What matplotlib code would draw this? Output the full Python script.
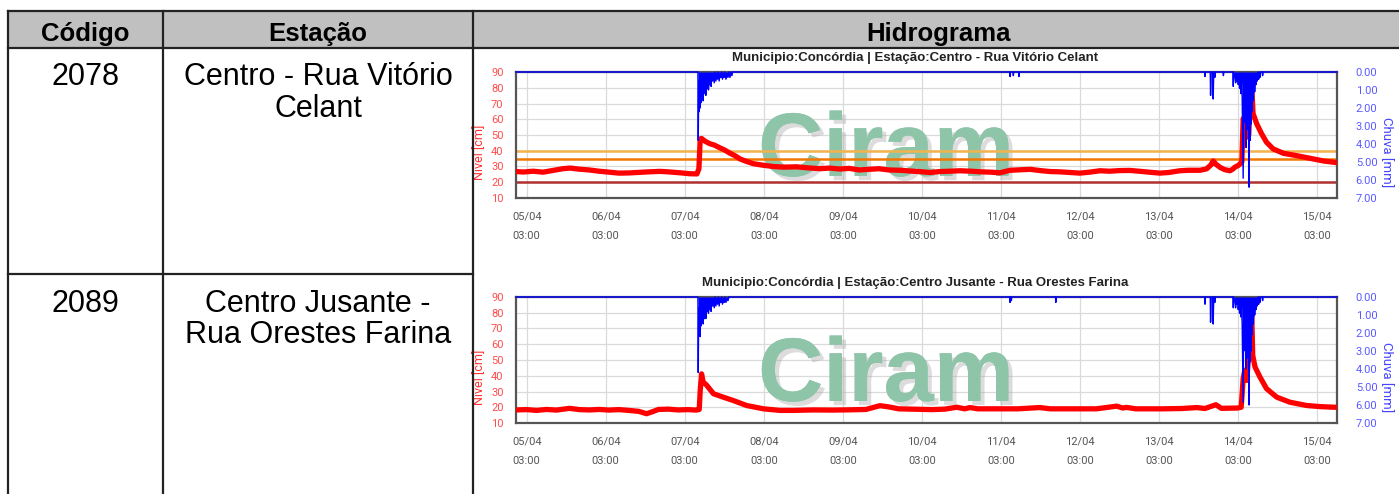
import matplotlib
matplotlib.use('Agg')
import matplotlib.pyplot as plt
from matplotlib.lines import Line2D
from matplotlib.patches import Rectangle
import matplotlib.patheffects as pe

# ---------------- data ----------------
header_labels = ['Código', 'Estação', 'Hidrograma']
station_codes = ['2078', '2089']
station_names = [['Centro - Rua Vitório', 'Celant'],
                 ['Centro Jusante -', 'Rua Orestes Farina']]
chart_titles = ['Municipio:Concórdia | Estação:Centro - Rua Vitório Celant',
                'Municipio:Concórdia | Estação:Centro Jusante - Rua Orestes Farina']

# x axis: hours since 05/04 00:00
tick_hours = [3, 27, 51, 75, 99, 123, 147, 171, 195, 219, 243]
tick_dates = ['05/04', '06/04', '07/04', '08/04', '09/04', '10/04',
              '11/04', '12/04', '13/04', '14/04', '15/04']
tick_times = ['03:00', '03:00', '03:00', '03:00', '03:00', '03:00',
              '03:00', '03:00', '03:00', '03:00', '03:00']
level_ticks = [10, 20, 30, 40, 50, 60, 70, 80, 90]
rain_ticks = [0, 1, 2, 3, 4, 5, 6, 7]

# thresholds (cm) for station 2078
thresholds1 = [40, 35, 20]
threshold_colors = ['#f2b24c', '#f07800', '#b03030']

# station 2078 water level (cm)
level1_h = [-0.25, 2, 5, 8, 11, 14, 16.2, 19, 22, 25, 28, 31, 34, 37.4, 40, 43.5, 46,
            49.6, 52.6, 54.7, 55.3, 55.7, 56.1, 57.2, 58.7, 60, 61.7, 63, 64.7, 66.3,
            67.8, 69.5, 71.8, 74.8, 77.9, 81, 85, 88, 92.1, 95, 98.1, 101, 104, 107,
            110, 113, 116.4, 119, 122, 125.5, 128.5, 131.5, 134.6, 138, 141, 144,
            146.7, 149.8, 152.8, 155.9, 159, 162, 165, 168, 171, 174, 177.1, 180, 183,
            186.2, 189, 192, 195.3, 198, 201.4, 204, 207.5, 209.5, 210.8, 211.5, 212.3,
            213.6, 215, 216.6, 217.5, 218.1, 219.0, 219.6, 220.2, 220.6, 221.2, 221.7,
            222.3, 222.7, 223.2, 223.6, 224.7, 226.2, 227.7, 229.7, 232.8, 236.8,
            241.9, 245, 248.5, 249.1]
level1_v = [26.8, 26.5, 27.0, 26.4, 27.5, 28.6, 29.0, 28.3, 27.8, 27.0, 26.4, 25.8, 25.9,
            26.3, 26.6, 26.9, 26.6, 26.0, 25.4, 25.3, 28.5, 47.5, 47.8, 46.0, 44.4, 43.6,
            41.8, 40.6, 38.5, 36.8, 34.8, 33.4, 31.8, 30.8, 30.0, 29.6, 29.8, 29.2, 28.6,
            29.0, 28.4, 28.8, 27.8, 28.2, 28.6, 27.8, 27.6, 27.2, 26.8, 26.2, 26.8, 27.0,
            27.3, 27.0, 26.6, 26.4, 26.0, 27.6, 27.9, 28.2, 27.4, 26.8, 26.6, 26.2, 25.8,
            26.4, 27.3, 27.0, 27.4, 27.5, 27.0, 26.4, 25.8, 26.2, 27.3, 27.6, 27.6, 28.5,
            31.0, 33.5, 31.5, 29.4, 28.0, 27.3, 28.4, 29.6, 30.5, 31.5, 33.0, 60.4, 58.0,
            48.6, 50.0, 71.0, 80.6, 63.7, 57.2, 50.8, 45.4, 41.2, 38.4, 36.9, 34.8, 33.5,
            32.6, 32.4]

# station 2078 rain (mm)
rain1_h = [-0.25, 55.0, 55.10, 55.25, 55.40, 55.55, 55.70, 55.85, 56.00, 56.15, 56.30,
           56.45, 56.60, 56.80, 57.00, 57.20, 57.40, 57.60, 57.80, 58.00, 58.20, 58.40,
           58.60, 58.80, 59.00, 59.20, 59.45, 59.70, 59.95, 60.20, 60.45, 60.70, 60.95,
           61.20, 61.45, 61.70, 61.95, 62.20, 62.45, 62.70, 62.95, 63.20, 63.50, 63.80,
           64.10, 64.40, 64.70, 65.00, 65.30, 65.50,
           149.7, 149.8, 149.9, 150.7, 150.8, 150.9, 152.4, 152.5, 152.6,
           208.9, 209.0, 209.1, 210.6, 210.7, 210.85, 211.35, 211.5, 211.65, 211.9, 212.0,
           212.1, 214.5, 214.6, 214.7, 217.5, 217.6, 217.7,
           218.1, 218.3, 218.5, 218.7, 218.9, 219.1, 219.3, 219.5, 219.7, 219.9, 220.1,
           220.3, 220.6, 220.75, 220.9, 221.05, 221.2, 221.35, 221.5, 221.65, 221.8,
           221.95, 222.1, 222.25, 222.4, 222.55, 222.7, 222.85, 223.0, 223.15, 223.3,
           223.5, 223.7, 223.9, 224.1, 224.3, 224.5, 224.7, 224.9, 225.1, 225.3, 225.5,
           225.7, 225.9, 226.4, 226.5, 226.6, 249.1]
rain1_v = [0, 0, 3.8, 0.5, 2.2, 0.7, 2.0, 0.6, 1.7, 0.4, 1.5,
           0.6, 1.6, 0.5, 1.2, 0.3, 1.3, 0.4, 0.9, 0.2, 1.0, 0.3,
           0.7, 0.1, 0.8, 0.2, 0.5, 0.1, 0.6, 0.0, 0.5, 0.1, 0.4,
           0.0, 0.5, 0.1, 0.3, 0.0, 0.4, 0.1, 0.3, 0.0, 0.4, 0.1,
           0.3, 0.0, 0.3, 0.0, 0.2, 0.0,
           0, 0.25, 0, 0, 0.2, 0, 0, 0.25, 0,
           0, 0.25, 0, 0, 1.3, 0, 0, 1.5, 0, 0, 0.3,
           0, 0, 0.2, 0, 0, 0.8, 0,
           0.3, 0.6, 0.1, 0.5, 0.2, 0.7, 0.3, 0.9, 0.4, 1.2, 0.5,
           1.4, 5.9, 0.8, 2.3, 1.0, 2.8, 1.2, 4.2, 1.5, 3.2,
           1.3, 2.6, 1.4, 6.4, 1.8, 3.8, 1.2, 2.9, 0.9, 2.2,
           0.7, 1.6, 0.4, 1.1, 0.3, 0.7, 0.1, 0.5, 0.0, 0.4, 0.0,
           0.3, 0.0, 0, 0.2, 0, 0]

# station 2089 water level (cm)
level2_h = [-0.25, 3, 6, 9, 12, 16, 19, 22, 25, 28, 31, 34, 37, 39.4, 41, 43, 46, 49, 52,
            54.5, 55.4, 55.7, 56.1, 56.6, 57.7, 59.7, 62.7, 65.7, 69.8, 74.9, 79.9, 84,
            90, 96, 102, 106, 110.3, 113, 116, 120, 126, 130, 133.6, 136, 137.6, 140,
            146, 152, 158.9, 162, 170, 176, 182.2, 184, 185.2, 188, 196, 202, 206.5, 209,
            212.3, 214, 218.9, 220.0, 220.6, 221.1, 221.7, 222.1, 223.2, 223.5, 224.2,
            225.7, 227.7, 230.8, 234.8, 239.9, 244, 248.5, 249.1]
level2_v = [18.3, 18.5, 18.0, 18.6, 18.2, 19.3, 18.5, 18.3, 18.6, 18.2, 18.5, 18.0, 17.4,
            15.9, 17.0, 18.6, 18.8, 18.3, 18.5, 18.2, 18.6, 30.7, 41.2, 36.0, 33.9, 28.6,
            26.4, 24.3, 21.1, 19.0, 18.0, 18.0, 18.3, 18.2, 18.4, 18.6, 21.0, 20.2, 19.0,
            18.8, 18.5, 18.8, 20.0, 19.0, 19.8, 19.0, 19.0, 19.0, 19.8, 19.0, 19.0, 19.0,
            20.7, 19.5, 19.9, 19.0, 19.0, 19.2, 19.8, 19.2, 21.6, 19.3, 19.5, 20.0, 38.2,
            43.5, 37.0, 48.8, 79.8, 53.0, 45.6, 39.2, 31.8, 26.4, 23.2, 21.1, 20.4, 20.0,
            20.0]

# station 2089 rain (mm)
rain2_h = [-0.25, 55.0, 55.10, 55.25, 55.40, 55.55, 55.70, 55.85, 56.00, 56.15, 56.30,
           56.45, 56.60, 56.80, 57.00, 57.20, 57.40, 57.60, 57.80, 58.00, 58.20, 58.40,
           58.60, 58.80, 59.00, 59.20, 59.45, 59.70, 59.95, 60.20, 60.45, 60.70, 60.95,
           61.20, 61.45, 61.70, 61.95, 62.20, 62.45, 62.70, 62.95, 63.20, 63.50, 63.80,
           64.10, 64.40,
           149.7, 149.8, 149.9, 150.1, 150.2, 150.3, 163.6, 163.7, 163.8,
           208.9, 209.0, 209.1, 210.6, 210.7, 210.85, 211.35, 211.5, 211.65, 211.9, 212.0,
           212.1, 217.5, 217.6, 217.7,
           218.1, 218.3, 218.5, 218.7, 218.9, 219.1, 219.3, 219.5, 219.7, 219.9, 220.1,
           220.3, 220.6, 220.75, 220.9, 221.05, 221.2, 221.35, 221.5, 221.65, 221.8,
           221.95, 222.1, 222.25, 222.4, 222.55, 222.7, 222.85, 223.0, 223.15, 223.3,
           223.5, 223.7, 223.9, 224.1, 224.3, 224.5, 224.7, 224.9, 225.1, 225.3, 225.5,
           225.7, 225.9, 226.4, 226.5, 226.6, 249.1]
rain2_v = [0, 0, 4.2, 0.6, 2.1, 0.8, 2.2, 0.5, 1.6, 0.4, 1.4,
           0.5, 1.5, 0.4, 1.2, 0.3, 1.2, 0.4, 0.8, 0.2, 0.9, 0.3,
           0.7, 0.1, 0.8, 0.2, 0.5, 0.1, 0.6, 0.0, 0.5, 0.1, 0.4,
           0.0, 0.5, 0.1, 0.3, 0.0, 0.4, 0.1, 0.3, 0.0, 0.3, 0.1,
           0.2, 0.0,
           0, 0.3, 0, 0, 0.2, 0, 0, 0.3, 0,
           0, 0.4, 0, 0, 1.4, 0, 0, 1.5, 0, 0, 0.3,
           0, 0, 0.6, 0,
           0.3, 0.6, 0.1, 0.4, 0.2, 0.7, 0.3, 0.9, 0.4, 1.1, 0.5,
           1.5, 5.85, 0.9, 2.4, 1.1, 3.0, 1.3, 4.0, 1.6, 3.4,
           1.4, 2.8, 1.5, 6.0, 1.9, 3.6, 1.2, 3.0, 1.0, 2.1,
           0.7, 1.5, 0.4, 1.0, 0.3, 0.7, 0.1, 0.5, 0.0, 0.4, 0.0,
           0.3, 0.0, 0, 0.2, 0, 0]

# ---------------- figure ----------------
W, H = 1399, 494
fig = plt.figure(figsize=(W / 100, H / 100), dpi=100)
fig.patch.set_facecolor('white')


def fx(px):
    return px / W


def fy(py):
    return 1 - py / H


TABLE_FONT = 'Liberation Sans'
CHART_FONT = 'Roboto'

# header background
fig.add_artist(Rectangle((fx(8), fy(48)), fx(1399) - fx(8), fy(11) - fy(48),
                         transform=fig.transFigure, facecolor='#c0c0c0',
                         edgecolor='none', zorder=0))


def hline(y, x0, x1):
    fig.add_artist(Line2D([fx(x0), fx(x1)], [fy(y), fy(y)], transform=fig.transFigure,
                          color='#222222', lw=1.6, zorder=5))


def vline(x, y0, y1):
    fig.add_artist(Line2D([fx(x), fx(x)], [fy(y0), fy(y1)], transform=fig.transFigure,
                          color='#222222', lw=1.6, zorder=5))


hline(11, 8, 1399)
hline(48, 8, 1399)
hline(274, 8, 473)
vline(8, 11, 494)
vline(163, 11, 494)
vline(473, 11, 494)

header_x = [85.5, 318, 938]
for lab, x in zip(header_labels, header_x):
    fig.text(fx(x), fy(41), lab, ha='center', va='baseline', fontsize=18.5,
             fontweight='bold', family=TABLE_FONT, color='black')

row_base = [[85, 116.5], [312, 343]]
for code, names, ys in zip(station_codes, station_names, row_base):
    fig.text(fx(85.5), fy(ys[0]), code, ha='center', va='baseline', fontsize=22,
             family=TABLE_FONT, color='black')
    for name, y in zip(names, ys):
        fig.text(fx(318), fy(y), name, ha='center', va='baseline', fontsize=22,
                 family=TABLE_FONT, color='black')


def draw_chart(top_px, lh, lv, rh, rv, title, thresholds):
    left_px, right_px = 516, 1337
    height_px = 126
    ax = fig.add_axes([fx(left_px), fy(top_px + height_px),
                       (right_px - left_px) / W, height_px / H])
    ax.set_facecolor('white')
    ax.set_xlim(-0.25, 249.1)
    ax.set_ylim(10, 90)

    ax.set_xticks(tick_hours)
    ax.set_xticklabels(tick_dates)
    ax.set_xticks(tick_hours, minor=True)
    ax.set_xticklabels(tick_times, minor=True)
    ax.xaxis.remove_overlapping_locs = False
    ax.tick_params(axis='x', which='major', length=0, pad=10, labelsize=8,
                   labelcolor='#555555')
    ax.tick_params(axis='x', which='minor', length=0, pad=24, labelsize=8,
                   labelcolor='#555555')
    for lbl in ax.get_xticklabels(which='both'):
        lbl.set_family(CHART_FONT)

    ax.set_yticks(level_ticks)
    ax.set_yticklabels([str(v) for v in level_ticks])
    ax.tick_params(axis='y', length=0, pad=9, labelsize=8, labelcolor='#ff4d4d')
    for lbl in ax.get_yticklabels():
        lbl.set_family(CHART_FONT)

    ax.grid(True, which='major', color='#dadada', lw=0.9)
    ax.set_axisbelow(True)
    for s in ax.spines.values():
        s.set_color('#555555')
        s.set_linewidth(1.6)

    ax.text(0.4507, 0.175, 'Ciram', transform=ax.transAxes, ha='center',
            va='baseline', fontsize=65, fontweight='bold', family=TABLE_FONT,
            color='#8ec5a9', zorder=1.5,
            path_effects=[pe.withSimplePatchShadow(offset=(3, -3),
                                                   shadow_rgbFace='#a8a8a8',
                                                   alpha=0.4),
                          pe.Normal()])

    for t, c in zip(thresholds, threshold_colors):
        ax.axhline(t, color=c, lw=1.8, zorder=2)

    ax.plot(lh, lv, color='#ff0000', lw=3.8, solid_joinstyle='round',
            solid_capstyle='round', zorder=3)

    ax.set_ylabel('Nível [cm]', color='#ff3333', fontsize=9, family=CHART_FONT,
                  va='center', ha='center')
    ax.yaxis.set_label_coords(-0.045, 0.365)

    ax2 = ax.twinx()
    ax2.set_ylim(7, 0)
    ax2.fill_between(rh, 0, rv, color='#0000ff', lw=0, zorder=4)
    ax2.plot(rh, rv, color='#0000ff', lw=1.0, zorder=4, clip_on=False)
    ax2.set_yticks(rain_ticks)
    ax2.set_yticklabels([f'{v:.2f}' for v in rain_ticks])
    ax2.tick_params(axis='y', length=0, pad=13.5, labelsize=8, labelcolor='#5a5aff')
    for lbl in ax2.get_yticklabels():
        lbl.set_family(CHART_FONT)
    for s in ax2.spines.values():
        s.set_visible(False)
    ax2.set_ylabel('Chuva [mm]', color='#4444ff', fontsize=9.5, family=CHART_FONT,
                   rotation=270, va='center', ha='center')
    ax2.yaxis.set_label_coords(1.0605, 0.365)

    fig.text(fx(915), fy(top_px - 14), title, ha='center', va='center',
             fontsize=9.5, fontweight='bold', family=TABLE_FONT, color='#222222')
    return ax


draw_chart(72, level1_h, level1_v, rain1_h, rain1_v, chart_titles[0], thresholds1)
draw_chart(297, level2_h, level2_v, rain2_h, rain2_v, chart_titles[1], [])

fig.savefig('out.png', dpi=100, facecolor='white')
